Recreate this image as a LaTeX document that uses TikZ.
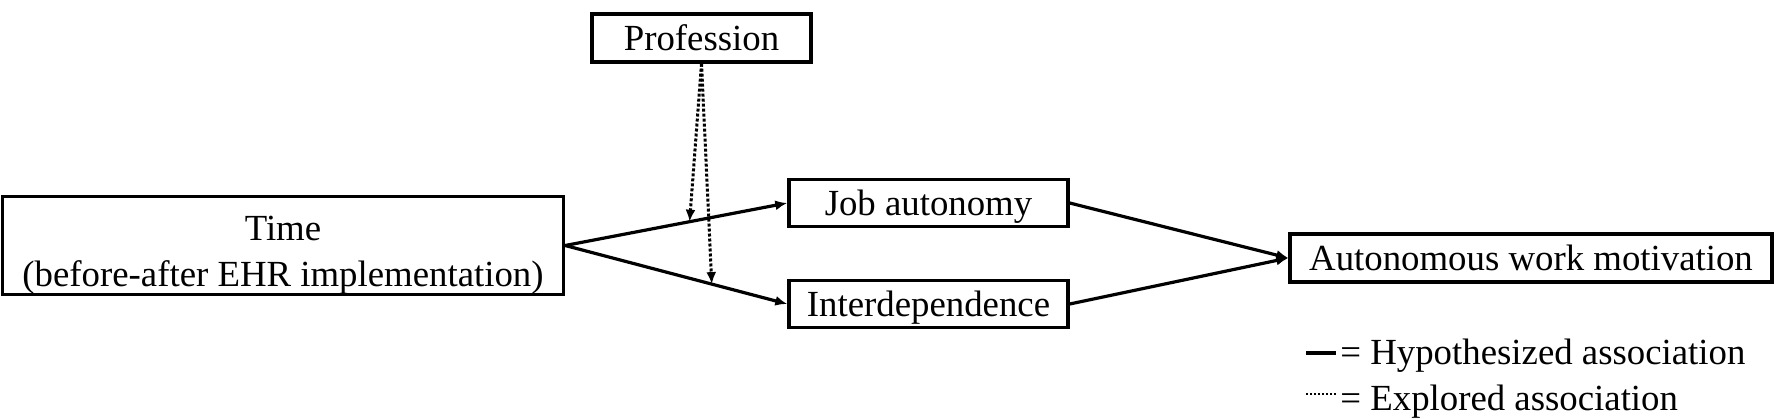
\documentclass[tikz,border=0pt]{standalone}
\usepackage{fontspec}
\setmainfont{Liberation Serif}
\usetikzlibrary{arrows.meta,calc}
\begin{document}
\begin{tikzpicture}[x=0.5pt,y=-0.5pt,
  box/.style={draw,line width=1.7pt,inner sep=0pt,align=center,font=\fontsize{18.4}{23}\selectfont},
  one/.style={text depth=0pt},
  hyp/.style={line width=1.6pt,-{Latex[length=6pt,width=5pt]}},
  expl/.style={line width=1.5pt,dash pattern=on 1.5pt off 1pt,-{Latex[length=6pt,width=5pt]}},
  legtext/.style={anchor=base west,inner sep=0pt,font=\fontsize{18.4}{23}\selectfont}]
\useasboundingbox (0,0) rectangle (1776,418);
\node[box,one,minimum width=109.5pt,minimum height=24pt] (prof) at (701.5,38) {Profession};
\node[box,minimum width=280.5pt,minimum height=46.5pt] (time) at (283,245.5) {\rule{0pt}{22pt}Time\\(before-after EHR implementation)};
\node[box,one,minimum width=139.5pt,minimum height=23.5pt] (job) at (928.5,203) {Job autonomy};
\node[box,one,minimum width=139.5pt,minimum height=23.5pt] (inter) at (928.5,304) {Interdependence};
\node[box,one,minimum width=241pt,minimum height=24pt] (aut) at (1531,258) {Autonomous work motivation};
\draw[hyp] (time.east) -- (job.west);
\draw[hyp] (time.east) -- (inter.west);
\draw[hyp] (job.east) -- (aut.west);
\draw[hyp] (inter.east) -- (aut.west);
\coordinate (m1) at ($(time.east)!0.56!(job.west)$);
\coordinate (m2) at ($(time.east)!0.66!(inter.west)$);
\draw[expl] (prof.south) -- (m1);
\draw[expl] (prof.south) -- (m2);
% legend
\coordinate (l1a) at (1306,353);
\coordinate (l1b) at (1336,353);
\coordinate (l2a) at (1306,394);
\coordinate (l2b) at (1336,394);
\draw[line width=1.6pt] (l1a) -- (l1b);
\draw[line width=1pt,dash pattern=on 1pt off 1pt] (l2a) -- (l2b);
\node[legtext] (lh) at (1340,364) {= Hypothesized association};
\node[legtext] (le) at (1340,410) {= Explored association};
\end{tikzpicture}
\end{document}
